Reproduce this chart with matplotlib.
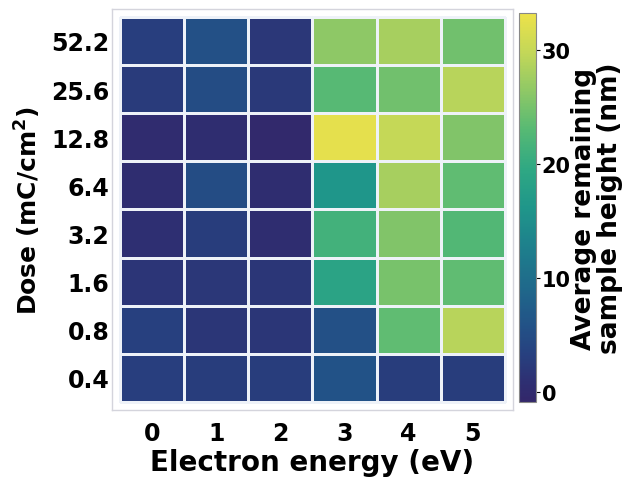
import numpy as np
import matplotlib.pyplot as plt
from matplotlib.colors import LinearSegmentedColormap

plt.rcParams['font.family'] = ['DejaVu Sans']
plt.rcParams['font.weight'] = 'bold'
plt.rcParams['mathtext.default'] = 'bf'

# -------------------------
# Data
# -------------------------

energy = ['0', '1', '2', '3', '4', '5']
dose = ['0.4', '0.8', '1.6', '3.2', '6.4', '12.8', '25.6', '52.2']   # bottom to top

# average remaining height (nm), rows follow `dose`
h_04 = [3.0, 2.7, 2.7, 5.8, 2.8, 2.8]
h_08 = [3.3, 1.8, 1.8, 5.5, 23.6, 29.0]
h_16 = [1.7, 2.0, 1.8, 18.6, 25.0, 23.5]
h_32 = [0.8, 2.8, 0.5, 21.3, 25.6, 22.6]
h_64 = [0.3, 5.0, 0.3, 16.2, 28.0, 23.5]
h_128 = [0.2, 0.3, -0.5, 32.5, 30.0, 25.5]
h_256 = [2.5, 5.0, 2.2, 23.0, 24.6, 29.0]
h_522 = [3.0, 5.5, 2.0, 26.3, 28.0, 24.6]

Z = np.array([h_04, h_08, h_16, h_32, h_64, h_128, h_256, h_522])

# viridis-like palette as it looks in the source figure
cmap_colors = ['#33276a', '#2e2f72', '#27407f', '#225387', '#1f6a8b', '#1e808c',
               '#1f968a', '#2fa883', '#56b974', '#8ec866', '#c3d758', '#ede24a']
cmap_pos = [0.0, 0.05, 0.12, 0.2, 0.3, 0.4, 0.5, 0.6, 0.7, 0.8, 0.9, 1.0]
cmap = LinearSegmentedColormap.from_list('ref_viridis', list(zip(cmap_pos, cmap_colors)))

# -------------------------
# Plot
# -------------------------

fig = plt.figure(figsize=(6.3, 4.85), dpi=100)
ax = fig.add_axes([0.178, 0.1526, 0.636, 0.827])

mesh = ax.pcolormesh(np.arange(7), np.arange(9), Z, cmap=cmap,
                     vmin=-0.9, vmax=33.2, edgecolors='#eef2f8', linewidth=0.9)

ax.set_xlim(-0.125, 6.125)
ax.set_ylim(-0.167, 8.167)
ax.set_xticks(np.arange(6) + 0.5)
ax.set_xticklabels(energy, fontsize=17, fontweight='bold')
ax.set_yticks(np.arange(8) + 0.5)
ax.set_yticklabels(dose, fontsize=17, fontweight='bold')
ax.tick_params(axis='x', length=0, pad=8)
ax.tick_params(axis='y', length=0, pad=2)
for s in ax.spines.values():
    s.set_color('#d4d4dc')
    s.set_linewidth(1.0)

ax.set_xlabel('Electron energy (eV)', fontsize=20, fontweight='bold', labelpad=2)
ax.set_ylabel('Dose (mC/cm$^2$)', fontsize=18, fontweight='bold', labelpad=6)

cax = fig.add_axes([0.824, 0.169, 0.027, 0.802])
cb = fig.colorbar(mesh, cax=cax, ticks=[0, 10, 20, 30])
cb.ax.tick_params(labelsize=15, length=3, width=0.8, pad=1)
for t in cb.ax.get_yticklabels():
    t.set_fontweight('bold')
cb.outline.set_edgecolor('#888888')
cb.set_label('Average remaining\nsample height (nm)', fontsize=19, fontweight='bold',
             labelpad=0, linespacing=1.0)

fig.savefig('out.png', dpi=100)
